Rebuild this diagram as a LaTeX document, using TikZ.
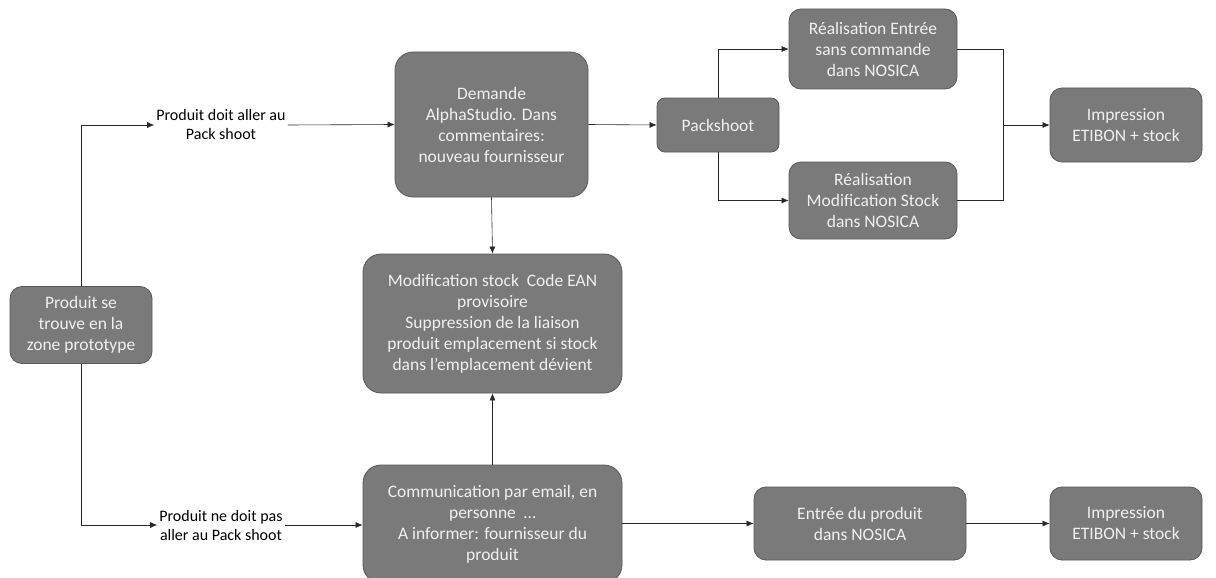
\documentclass[tikz,border=0pt]{standalone}
\usepackage{fontspec}
\setmainfont{Carlito}
\usetikzlibrary{arrows.meta}
\definecolor{boxgray}{RGB}{122,122,122}
\definecolor{boxline}{RGB}{88,88,88}
\definecolor{boxtext}{RGB}{240,240,240}
\definecolor{lineclr}{RGB}{40,40,40}
\begin{document}
\begin{tikzpicture}[x=1pt,y=-1pt,
  box/.style={draw=boxline, fill=boxgray, line width=0.8pt, rounded corners=12pt, text=boxtext, align=center, inner sep=0pt, font=\fontsize{17.5}{21}\selectfont},
  lbl/.style={align=center, text=black, inner sep=2pt, font=\fontsize{16}{19}\selectfont},
  conn/.style={draw=lineclr, line width=0.6pt},
  arr/.style={conn, -{Latex[length=7pt,width=6pt]}}]
\useasboundingbox (0,0) rectangle (1216,578);
\node[box, minimum width=142pt, minimum height=77pt] (start) at (81,325) {Produit se\\trouve en la\\zone prototype};
\node[lbl] (l1) at (221,125) {Produit doit aller au\\Pack shoot};
\node[lbl] (l2) at (221,525) {Produit ne doit pas\\aller au Pack shoot};
\node[box, rounded corners=18pt, minimum width=193pt, minimum height=145pt] (dem) at (491.5,124.5) {Demande\\AlphaStudio. Dans\\commentaires:\\nouveau fournisseur};
\node[box, rounded corners=18pt, minimum width=259pt, minimum height=139pt] (mod) at (492.5,323.5) {Modification stock\ \ Code EAN\\provisoire\\Suppression de la liaison\\produit emplacement si stock\\dans l’emplacement dévient};
\node[box, rounded corners=18pt, minimum width=259pt, minimum height=118pt] (com) at (492.5,524) {Communication par email, en\\personne\ \ …\\A informer: fournisseur du\\produit};
\node[box, rounded corners=8pt, minimum width=122pt, minimum height=54pt] (pk) at (718,125) {Packshoot};
\node[box, minimum width=168pt, minimum height=80pt] (re) at (873,49) {Réalisation Entrée\\sans commande\\dans NOSICA};
\node[box, minimum width=168pt, minimum height=77pt] (rm) at (873,200.5) {Réalisation\\Modification Stock\\dans NOSICA};
\node[box, minimum width=152pt, minimum height=74pt] (imp1) at (1126,125) {Impression\\ETIBON + stock};
\node[box, minimum width=212pt, minimum height=73pt] (ent) at (860,523.5) {Entrée du produit\\dans NOSICA};
\node[box, minimum width=152pt, minimum height=73pt] (imp2) at (1126,523.5) {Impression\\ETIBON + stock};
\coordinate (merge) at (1003,125);
\draw[arr] (start.north) |- (l1.west);
\draw[arr] (start.south) |- (l2.west);
\draw[arr] (l1.east) -- (dem.west);
\draw[arr] (l2.east) -- (com.west |- l2.east);
\draw[arr] (dem.south) -- (mod.north);
\draw[arr] (com.north) -- (mod.south);
\draw[arr] (dem.east) -- (pk.west);
\draw[arr] (pk.north) |- (re.west);
\draw[arr] (pk.south) |- (rm.west);
\draw[conn] (re.east) -| (merge);
\draw[conn] (rm.east) -| (merge);
\draw[arr] (merge) -- (imp1.west);
\draw[arr] (com.east |- ent.west) -- (ent.west);
\draw[arr] (ent.east) -- (imp2.west);
\end{tikzpicture}
\end{document}
